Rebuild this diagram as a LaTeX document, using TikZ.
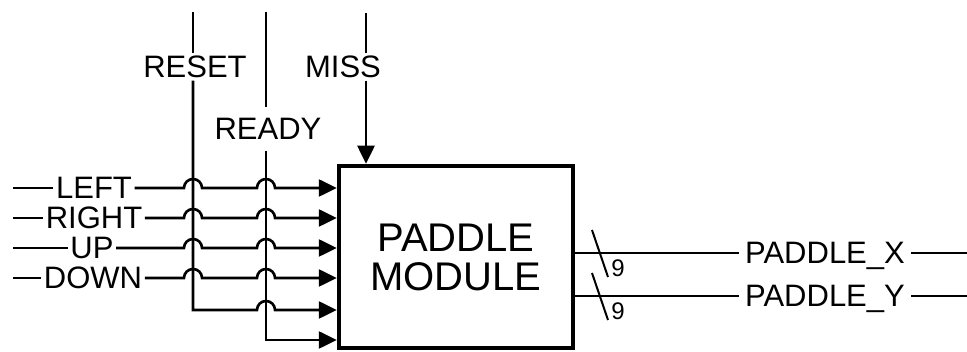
\documentclass[tikz,border=0pt]{standalone}
\usepackage{fontspec}
\setmainfont{Liberation Sans}
\usetikzlibrary{arrows.meta,calc,positioning}

\tikzset{
  wire/.style={line width=2.6pt},
  pin/.style={wire,-{Triangle[length=18pt,width=17pt]}},
  slash/.style={line width=2pt},
  sig/.style={fill=white,inner sep=2.5pt,text depth=0pt,font=\fontsize{31}{31}\selectfont},
  bus/.style={inner sep=0pt,font=\fontsize{24}{24}\selectfont},
  box/.style={draw,line width=4.5pt,minimum width=234pt,minimum height=182pt,align=center,
    font=\fontsize{40}{39}\selectfont},
}

\begin{document}
\begin{tikzpicture}[x=1pt,y=-1pt]
  \useasboundingbox (0,0) rectangle (967,352);
  % the block
  \node[box] (pm) at (456,257) {PADDLE\\MODULE};
  % control lines from above
  \coordinate (rs) at (193,12);
  \coordinate (rd) at (266,12);
  \coordinate (ms) at (366,13);
  \coordinate (rsb) at (193,310);
  \coordinate (rdb) at (266,340);
  \node[sig] (rst) at (195,67) {RESET};
  \node[sig,inner ysep=11pt] (rdy) at (268,129) {READY};
  \node[sig] (mss) at (343,67) {MISS};
  \draw[wire] (rs) -- (rs |- rst.north);
  \draw[wire] (rd) -- (rd |- rdy.north);
  \draw[wire] (ms) -- (ms |- mss.north);
  \draw[pin] (rs |- rst.south) -- (rsb) -- ([xshift=-9pt]rd |- rsb)
    arc[start angle=180,end angle=0,radius=9pt] -- (pm.west |- rsb);
  \draw[pin] (rd |- rdy.south) -- (rdb) -- (pm.west |- rdb);
  \draw[pin] (ms |- mss.south) -- (ms |- pm.north);
  % inputs, hopping over the control lines
  \foreach \n/\t/\x/\y in {lft/LEFT/94/188,rgt/RIGHT/94/218,up/UP/92/248,dn/DOWN/93/278}{
    \node[sig] (\n) at (\x,\y) {\t};
    \coordinate (\n-in) at (13,\y);
    \draw[wire] (\n-in) -- (\n.west);
    \draw[pin] (\n.east) -- ([xshift=-9pt]rs |- \n)
      arc[start angle=180,end angle=0,radius=9pt] -- ([xshift=-9pt]rd |- \n)
      arc[start angle=180,end angle=0,radius=9pt] -- (pm.west |- \n);
  }
  % outputs, 9 bits each
  \coordinate (tap) at (600,0);
  \foreach \o/\t/\y in {px/PADDLE\_X/253,py/PADDLE\_Y/296}{
    \node[sig,inner xsep=6pt] (\o) at (825,\y) {\t};
    \coordinate (\o-out) at (967,\y);
    \draw[wire] (pm.east |- \o) -- (\o.west);
    \draw[wire] (\o.east) -- (\o-out);
    \draw[slash] ($(tap |- \o)+(-8,-23)$) -- ++(16,47);
    \node[bus] (\o-w) at ($(tap |- \o)+(18,15)$) {9};
  }
\end{tikzpicture}
\end{document}
